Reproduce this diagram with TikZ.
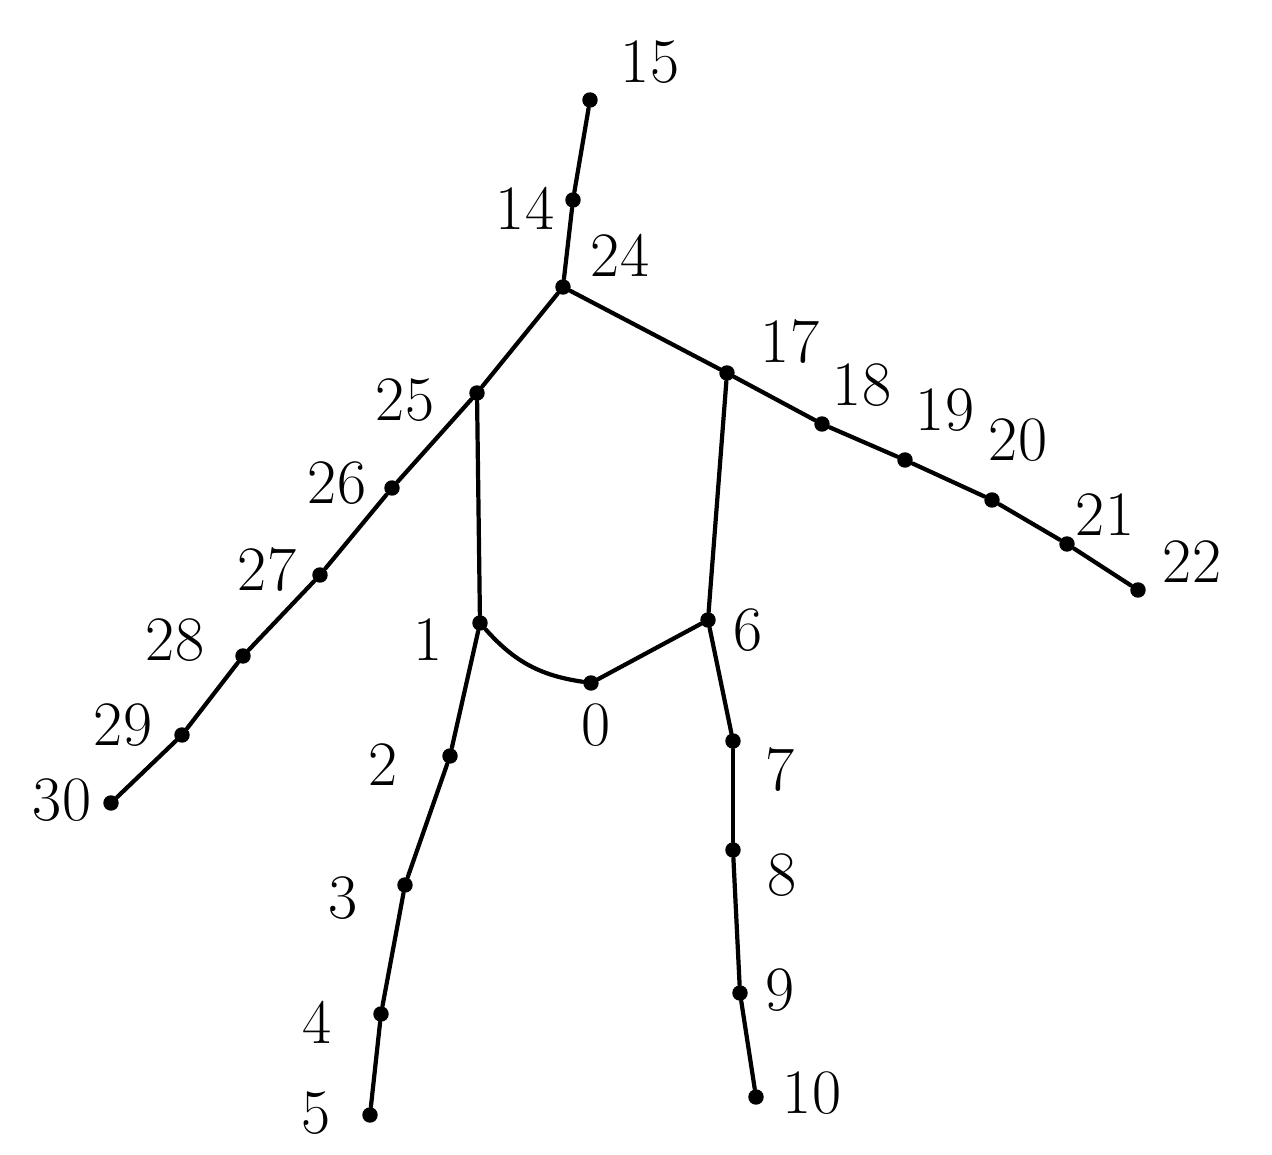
\documentclass[tikz,border=0pt]{standalone}
\usetikzlibrary{positioning}
\begin{document}
\begin{tikzpicture}[
  x=0.01cm, y=-0.01cm,
  joint/.style={circle,fill=black,inner sep=0pt,minimum size=4.4pt},
  num/.style={font=\fontsize{18}{20}\selectfont,inner sep=1pt},
  bone/.style={line width=1.2pt,line cap=round,line join=round},
]
\useasboundingbox[fill=white] (0,0) rectangle (1272,1155);

% head and spine
\node[joint] (j15) at (590,100) {};
\node[joint] (j14) at (573,200) {};
\node[joint] (j24) at (563,287) {};
% right arm
\node[joint] (j17) at (727,373) {};
\node[joint] (j18) at (822,424) {};
\node[joint] (j19) at (905,460) {};
\node[joint] (j20) at (992,500) {};
\node[joint] (j21) at (1067,544) {};
\node[joint] (j22) at (1138,590) {};
% left arm
\node[joint] (j25) at (477,393) {};
\node[joint] (j26) at (392,488) {};
\node[joint] (j27) at (320,575) {};
\node[joint] (j28) at (243,656) {};
\node[joint] (j29) at (182,735) {};
\node[joint] (j30) at (111,803) {};
% hips
\node[joint] (j1) at (480,623) {};
\node[joint] (j6) at (708,620) {};
\node[joint] (j0) at (591,683) {};
% left leg
\node[joint] (j2) at (450,756) {};
\node[joint] (j3) at (405,885) {};
\node[joint] (j4) at (381,1014) {};
\node[joint] (j5) at (370,1115) {};
% right leg
\node[joint] (j7) at (733,741) {};
\node[joint] (j8) at (733,850) {};
\node[joint] (j9) at (740,993) {};
\node[joint] (j10) at (756,1097) {};

% labels
\node[num] (l15) at (650,62) {15};
\node[num] (l14) at (525,208) {14};
\node[num] (l24) at (620,255) {24};
\node[num] (l17) at (790,342) {17};
\node[num] (l18) at (862,385) {18};
\node[num] (l19) at (945,410) {19};
\node[num] (l20) at (1018,440) {20};
\node[num] (l21) at (1105,515) {21};
\node[num] (l22) at (1192,562) {22};
\node[num] (l25) at (405,400) {25};
\node[num] (l26) at (337,483) {26};
\node[num] (l27) at (267,570) {27};
\node[num] (l28) at (175,640) {28};
\node[num] (l29) at (123,725) {29};
\node[num] (l30) at (62,800) {30};
\node[num] (l1) at (428,640) {1};
\node[num] (l6) at (748,630) {6};
\node[num] (l0) at (596,725) {0};
\node[num] (l2) at (383,765) {2};
\node[num] (l3) at (343,898) {3};
\node[num] (l4) at (317,1022) {4};
\node[num] (l5) at (316,1113) {5};
\node[num] (l7) at (780,770) {7};
\node[num] (l8) at (782,875) {8};
\node[num] (l9) at (780,990) {9};
\node[num] (l10) at (812,1093) {10};

% bones
\foreach \a/\b in {15/14,14/24,24/25,24/17,17/18,18/19,19/20,20/21,21/22,
                   25/26,26/27,27/28,28/29,29/30,25/1,17/6,
                   1/2,2/3,3/4,4/5,6/7,7/8,8/9,9/10}
  \draw[bone] (j\a) -- (j\b);
\draw[bone] (j1) to[bend right=20] (j0);
\draw[bone] (j0) -- (j6);
\end{tikzpicture}
\end{document}
